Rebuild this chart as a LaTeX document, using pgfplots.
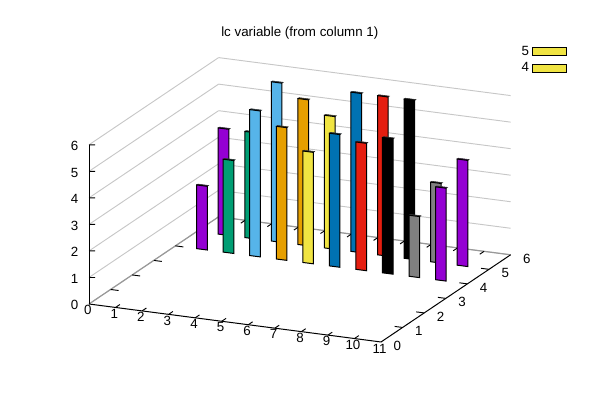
\documentclass[border=0pt]{standalone}
\usepackage{fontspec}
\setmainfont{Liberation Sans}
\usepackage{pgfplots}
\pgfplotsset{compat=1.18}
\definecolor{c1}{HTML}{9400D3}
\definecolor{c2}{HTML}{009E73}
\definecolor{c3}{HTML}{56B4E9}
\definecolor{c4}{HTML}{E69F00}
\definecolor{c5}{HTML}{F0E442}
\definecolor{c6}{HTML}{0072B2}
\definecolor{c7}{HTML}{E51E10}
\definecolor{c8}{HTML}{000000}
\definecolor{c9}{HTML}{808080}
% colour, x from, x to, y, y back, height
\newcommand{\boxbar}[6]{%
  \addplot3[draw=black!80,fill=#1!50!black,line width=0.4pt,forget plot]
    coordinates {(#2,#5,#6) (#3,#5,#6) (#3,#4,#6) (#2,#4,#6)} --cycle;
  \addplot3[draw=black,fill=#1,line width=0.75pt,forget plot]
    coordinates {(#2,#4,0) (#3,#4,0) (#3,#4,#6) (#2,#4,#6)} --cycle;
}
\begin{document}
\begin{tikzpicture}[x=1pt,y=1pt]
\useasboundingbox (-66.75,-72) rectangle (383.25,228);
\begin{axis}[
  at={(0,0)},anchor=origin,
  x={(19.91pt,-2.59pt)},
  y={(16.2pt,10.9pt)},
  z={(0pt,19.9pt)},
  xmin=0,xmax=11,ymin=0,ymax=6,zmin=0,zmax=6,
  xtick={0,...,11},ytick={0,...,6},ztick={0,...,6},
  zmajorgrids=true,
  major grid style={color=black!22,line width=0.7pt},
  axis line style={draw=none},
  tick style={draw=none},
  x tick label style={xshift=3pt,yshift=2.75pt},
  y tick label style={xshift=6pt,yshift=4.25pt},
  z tick label style={xshift=-4.5pt,yshift=0.5pt},
  clip=false,
  unbounded coords=jump,
  font=\fontsize{10pt}{12pt}\selectfont,
  /pgf/number format/assume math mode=true,
  title={lc variable (from column 1)},
  title style={font=\fontsize{10pt}{12pt}\selectfont,yshift=4.5pt},
  legend plot pos=right,
  legend style={draw=none,fill=none,at={(1.03,0.99)},anchor=north east,
    xshift=35.75pt,yshift=15pt,font=\fontsize{10pt}{11.25pt}\selectfont},
  legend cell align=right,
  legend image code/.code={\draw[#1] (0pt,-3pt) rectangle (25.5pt,3pt);},
]
\addlegendimage{draw=black,fill=c5,line width=0.75pt}
\addlegendentry{5}
\addlegendimage{draw=black,fill=c5,line width=0.75pt}
\addlegendentry{4}
% gray edges of the base at the back, with their ticks
\addplot3[black!40,line width=0.9pt,forget plot] coordinates {(0,0,0) (0,6,0) (11,6,0)};
\addplot3[black,line width=0.7pt,forget plot] coordinates {
  (1,6,0) (1,5.8,0) (nan,nan,nan) (2,6,0) (2,5.8,0) (nan,nan,nan)
  (3,6,0) (3,5.8,0) (nan,nan,nan) (4,6,0) (4,5.8,0) (nan,nan,nan)
  (5,6,0) (5,5.8,0) (nan,nan,nan) (6,6,0) (6,5.8,0) (nan,nan,nan)
  (7,6,0) (7,5.8,0) (nan,nan,nan) (8,6,0) (8,5.8,0) (nan,nan,nan)
  (9,6,0) (9,5.8,0) (nan,nan,nan) (10,6,0) (10,5.8,0) (nan,nan,nan)
  (0,1,0) (0.3,1,0) (nan,nan,nan) (0,2,0) (0.3,2,0) (nan,nan,nan)
  (0,3,0) (0.3,3,0) (nan,nan,nan) (0,4,0) (0.3,4,0) (nan,nan,nan)
  (0,5,0) (0.3,5,0)};
% back row
\boxbar{c1}{0.8}{1.2}{5}{5.06}{4.0}
\boxbar{c2}{1.8}{2.2}{5}{5.06}{4.0}
\boxbar{c3}{2.8}{3.2}{5}{5.06}{6.0}
\boxbar{c4}{3.8}{4.2}{5}{5.06}{5.5}
\boxbar{c5}{4.8}{5.2}{5}{5.06}{5.0}
\boxbar{c6}{5.8}{6.2}{5}{5.06}{6.0}
\boxbar{c7}{6.8}{7.2}{5}{5.06}{6.0}
\boxbar{c8}{7.8}{8.2}{5}{5.06}{6.0}
\boxbar{c9}{8.8}{9.2}{5}{5.06}{3.0}
\boxbar{c1}{9.8}{10.2}{5}{5.06}{4.0}
% front row
\boxbar{c1}{0.8}{1.2}{4}{4.06}{2.4}
\boxbar{c2}{1.8}{2.2}{4}{4.06}{3.5}
\boxbar{c3}{2.8}{3.2}{4}{4.06}{5.5}
\boxbar{c4}{3.8}{4.2}{4}{4.06}{5.0}
\boxbar{c5}{4.8}{5.2}{4}{4.06}{4.2}
\boxbar{c6}{5.8}{6.2}{4}{4.06}{5.0}
\boxbar{c7}{6.8}{7.2}{4}{4.06}{4.8}
\boxbar{c8}{7.8}{8.2}{4}{4.06}{5.1}
\boxbar{c9}{8.8}{9.2}{4}{4.06}{2.3}
\boxbar{c1}{9.8}{10.2}{4}{4.06}{3.5}
% black front edges of the base and the z axis, with their ticks
\addplot3[black,line width=0.75pt,forget plot] coordinates {(0,0,0) (11,0,0) (11,6,0)};
\addplot3[black,line width=0.75pt,forget plot] coordinates {(0,0,0) (0,0,6)};
\addplot3[black,line width=0.7pt,forget plot] coordinates {
  (1,0,0) (1,0.2,0) (nan,nan,nan) (2,0,0) (2,0.2,0) (nan,nan,nan)
  (3,0,0) (3,0.2,0) (nan,nan,nan) (4,0,0) (4,0.2,0) (nan,nan,nan)
  (5,0,0) (5,0.2,0) (nan,nan,nan) (6,0,0) (6,0.2,0) (nan,nan,nan)
  (7,0,0) (7,0.2,0) (nan,nan,nan) (8,0,0) (8,0.2,0) (nan,nan,nan)
  (9,0,0) (9,0.2,0) (nan,nan,nan) (10,0,0) (10,0.2,0) (nan,nan,nan)
  (11,1,0) (10.7,1,0) (nan,nan,nan) (11,2,0) (10.7,2,0) (nan,nan,nan)
  (11,3,0) (10.7,3,0) (nan,nan,nan) (11,4,0) (10.7,4,0) (nan,nan,nan)
  (11,5,0) (10.7,5,0) (nan,nan,nan)
  (0,0,1) (0.19,0.045,1) (nan,nan,nan) (0,0,2) (0.19,0.045,2) (nan,nan,nan)
  (0,0,3) (0.19,0.045,3) (nan,nan,nan) (0,0,4) (0.19,0.045,4) (nan,nan,nan)
  (0,0,5) (0.19,0.045,5) (nan,nan,nan) (0,0,6) (0.19,0.045,6)};
\end{axis}
\end{tikzpicture}
\end{document}
